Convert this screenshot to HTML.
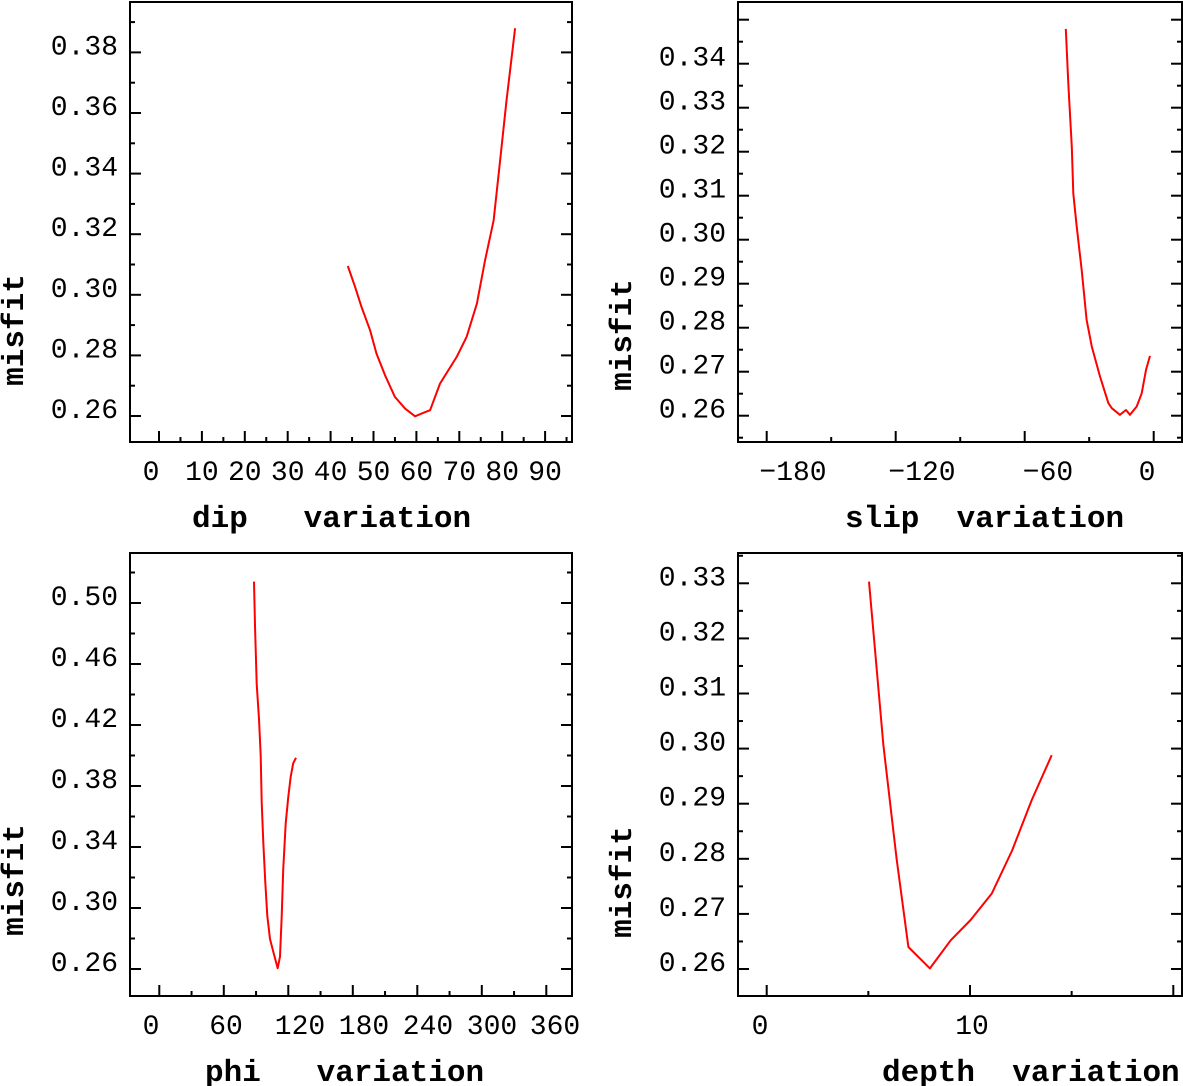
<!DOCTYPE html>
<html><head><meta charset="utf-8"><style>
html,body{margin:0;padding:0;background:#fff;}
svg{display:block;}
text{font-family:"Liberation Mono",monospace;fill:#000;}
.ttl{white-space:pre;}
</style></head><body>
<svg id="chart" width="1183" height="1086" viewBox="0 0 1183 1086" xmlns="http://www.w3.org/2000/svg"></svg>
<script>
// Data arrays
const dipX = [44.0,45.7,47.2,49.2,50.7,52.7,55.0,57.4,59.7,61.2,63.2,65.5,69.4,71.7,74.1,76.0,78.0,79.5,81.0,83.0];
const dipY = [0.3095,0.3026,0.2960,0.2883,0.2806,0.2734,0.2663,0.2624,0.2599,0.2608,0.2619,0.2707,0.2795,0.2861,0.2971,0.3113,0.3245,0.3443,0.3641,0.3880];
const slipX = [-40.9,-39.7,-38.1,-37.4,-35.8,-33.5,-31.2,-28.8,-25.0,-21.1,-19.5,-15.7,-12.9,-11.0,-7.9,-5.6,-3.6,-1.7];
const slipY = [0.3479,0.3355,0.3211,0.3105,0.3030,0.2931,0.2818,0.2757,0.2689,0.2629,0.2617,0.2602,0.2613,0.2602,0.2621,0.2651,0.2704,0.2736];
const phiX = [88.1,89.0,90.6,92.7,94.3,95.3,96.7,98.6,100.5,103.0,106.1,110.1,112.3,113.9,115.3,117.6,120.0,122.2,124.6,127.2];
const phiY = [0.514,0.4851,0.4469,0.4239,0.3999,0.3693,0.3430,0.3168,0.2949,0.2797,0.2710,0.2605,0.2681,0.2944,0.3249,0.3555,0.3730,0.3861,0.3949,0.3985];
const depthX = [5.03,5.74,6.39,6.97,8.03,9.05,10.03,11.07,12.07,13.03,14.02];
const depthY = [0.3303,0.3006,0.2800,0.2640,0.2601,0.2652,0.2689,0.2737,0.2815,0.2906,0.2988];
const dipXTicks = [0,10,20,30,40,50,60,70,80,90];
const dipYTicks = [0.26,0.28,0.30,0.32,0.34,0.36,0.38];
const slipXTicks = [-180,-120,-60,0];
const slipYTicks = [0.26,0.27,0.28,0.29,0.30,0.31,0.32,0.33,0.34];
const phiXTicks = [0,60,120,180,240,300,360];
const phiYTicks = [0.26,0.30,0.34,0.38,0.42,0.46,0.50];
const depthXTicks = [0,10];
const depthYTicks = [0.26,0.27,0.28,0.29,0.30,0.31,0.32,0.33];

const svg = document.getElementById('chart');
const NS = 'http://www.w3.org/2000/svg';
function mk(tag, attrs, parent){const e=document.createElementNS(NS,tag);for(const k in attrs)e.setAttribute(k,attrs[k]);parent.appendChild(e);return e;}

function panel(p){
  const g = mk('g',{},svg);
  
  
  const sx = v => p.x0px + (v - p.x0v) * p.xs;
  const sy = v => p.y0px - (v - p.y0v) * p.ys;
  const fr = mk('rect',{x:p.L,y:p.T,width:p.R-p.L,height:p.B-p.T,fill:'none',stroke:'#000','stroke-width':2},g);
  
  
  const xt = p.xTicks, xstep = xt[1]-xt[0];
  for(let v = xt[0]; v <= xt[xt.length-1] + xstep; v += xstep/p.xMinorDiv){
    const px = sx(v); if(px <= p.L+1 || px >= p.R-1) continue;
    const isMaj = Math.abs(Math.round((v-xt[0])/xstep)*xstep-(v-xt[0]))<1e-6;
    mk('line',{x1:px,x2:px,y1:p.B,y2:p.B-(isMaj?11:5),stroke:'#000','stroke-width':2},g);
  }
  const yt = p.yTicks, ystep = yt[1]-yt[0];
  for(let v = yt[0]-ystep; v <= yt[yt.length-1]+ystep+1e-9; v += ystep/p.yMinorDiv){
    const py = sy(v); if(py <= p.T+1 || py >= p.B-1) continue;
    const isMaj = Math.abs(Math.round((v-yt[0])/ystep)*ystep-(v-yt[0]))<1e-6;
    const len = isMaj?11:5;
    mk('line',{x1:p.L,x2:p.L+len,y1:py,y2:py,stroke:'#000','stroke-width':2},g);
    mk('line',{x1:p.R,x2:p.R-len,y1:py,y2:py,stroke:'#000','stroke-width':2},g);
  }
  yt.forEach(v=>{
    const t = mk('text',{x:p.L-12,y:sy(v)+2,'text-anchor':'end','font-size':28},g);
    t.textContent = v.toFixed(2);
    
    
  });
  xt.forEach((v,i)=>{
    const cx = (p.xLabelPos && p.xLabelPos[i]!=null) ? p.xLabelPos[i] : sx(v);
    const t = mk('text',{x:cx,y:p.B+38,'text-anchor':'middle','font-size':28},g);
    t.textContent = v<0 ? '\u2212'+Math.abs(v) : String(v);
    
    
  });
  const xtl = mk('text',{x:p.xtX,y:p.B+85,'font-size':31,'font-weight':'bold','class':'ttl'},g);
  xtl.textContent = p.xTitle;
  
  
  const ytl = mk('text',{x:0,y:0,'font-size':31,'font-weight':'bold','text-anchor':'middle',transform:`translate(${p.ytX},${p.ytY}) rotate(-90)`},g);
  ytl.textContent = 'misfit';
  
  
  const d = p.xs_data.map((v,i)=>(i?'L':'M')+sx(v).toFixed(1)+' '+sy(p.ys_data[i]).toFixed(1)).join(' ');
  const path = mk('path',{d:d,fill:'none',stroke:'#ff0000','stroke-width':2,'stroke-linejoin':'round'},g);
  
  
}

panel({name:'dip',L:130,R:572,T:2,B:442,x0px:159,x0v:0,xs:4.29,y0px:416,y0v:0.26,ys:3030,
  xTicks:dipXTicks,xMinorDiv:2,yTicks:dipYTicks,yMinorDiv:2,xLabelPos:[151],
  xTitle:'dip   variation',xtX:192,ytX:23,ytY:330,xs_data:dipX,ys_data:dipY});
panel({name:'slip',L:738,R:1182,T:2,B:442,x0px:1153.7,x0v:0,xs:2.15,y0px:415.7,y0v:0.26,ys:4400,
  xTicks:slipXTicks,xMinorDiv:2,yTicks:slipYTicks,yMinorDiv:2,xLabelPos:[793,922,1048,1147],
  xTitle:'slip  variation',xtX:845,ytX:631,ytY:335,xs_data:slipX,ys_data:slipY});
panel({name:'phi',L:130,R:572,T:553,B:996,x0px:159.3,x0v:0,xs:1.075,y0px:969,y0v:0.26,ys:1525,
  xTicks:phiXTicks,xMinorDiv:2,yTicks:phiYTicks,yMinorDiv:2,xLabelPos:[151,226,300,364,428,492,555],
  xTitle:'phi   variation',xtX:205,ytX:23,ytY:880,xs_data:phiX,ys_data:phiY});
panel({name:'depth',L:738,R:1182,T:553,B:996,x0px:766.7,x0v:0,xs:20.33,y0px:969,y0v:0.26,ys:5510,
  xTicks:depthXTicks,xMinorDiv:2,yTicks:depthYTicks,yMinorDiv:2,xLabelPos:[760,972],
  xTitle:'depth  variation',xtX:882,ytX:631,ytY:882,xs_data:depthX,ys_data:depthY});
</script>
</body></html>
